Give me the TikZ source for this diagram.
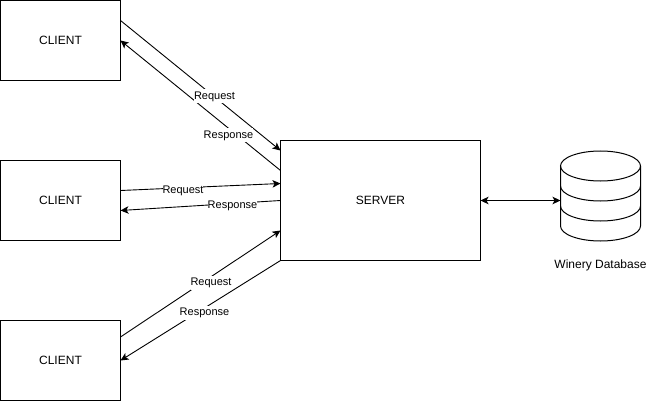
\documentclass[tikz,border=0pt]{standalone}
\usepackage{fontspec}
\setmainfont{Liberation Sans}
\usetikzlibrary{arrows.meta}
\tikzset{
	box/.style={draw,line width=1pt,inner sep=0pt,outer sep=0pt,font=\fontsize{12}{14}\selectfont},
	link/.style={line width=.9pt,-{Stealth[length=8pt,width=7.5pt,inset=2pt]}},
	both/.style={line width=.9pt,{Stealth[length=8pt,width=7.5pt,inset=2pt]}-{Stealth[length=8pt,width=7.5pt,inset=2pt]}},
	lbl/.style={fill=white,inner xsep=0pt,inner ysep=1pt,minimum height=14pt,font=\fontsize{11}{13}\selectfont}
}

\begin{document}
\begin{tikzpicture}
				[x=1pt,y=-1pt]
				\useasboundingbox (0,0) rectangle (661,401);
				\node[box,minimum width=120pt,minimum height=80pt] (client1) at (60.5,40.5)  {CLIENT};
				\node[box,minimum width=120pt,minimum height=80pt] (client2) at (60.5,200.5)  {CLIENT};
				\node[box,minimum width=120pt,minimum height=80pt] (client3) at (60.5,360.5)  {CLIENT};
				\node[box,minimum width=200pt,minimum height=120pt] (server) at (380.5,200.5)  {SERVER};
				\node[inner sep=0pt,outer sep=0pt,minimum width=80pt,minimum height=90pt] (db) at (600.5,196)  {};
				
				% client to server and back
				\draw[link] ([yshift=20pt]client1.east) -- ([yshift=50pt]server.west);
				\draw[link] ([yshift=30pt]server.west) -- (client1.east);
				\draw[link] ([yshift=10pt]client2.east) -- ([yshift=17pt]server.west);
				\draw[link] (server.west) -- ([yshift=-10pt]client2.east);
				\draw[link] ([yshift=23.5pt]client3.east) -- ([yshift=-30pt]server.west);
				\draw[link] (server.south west) -- (client3.east);
				\draw[both] (server.east) -- (server.east -| db.west);
				
				% database
				\draw[line width=1pt] (db.west |- 0,166) -- (db.west |- 0,226) arc[start angle=180,end angle=360,x radius=40pt,y radius=15pt] -- (db.east |- 0,166);
				\draw[line width=1pt] (600.5,166) circle[x radius=40pt,y radius=15pt];
				\foreach \y in {186,206}
				\draw[line width=1pt] (db.west |- 0,\y) arc[start angle=180,end angle=360,x radius=40pt,y radius=15pt];
				
				\node[lbl] (req1) at (214.5,96.5)  {Request};
				\node[lbl] (res1) at (228.5,135.5)  {Response};
				\node[lbl] (req2) at (183,190.5)  {Request};
				\node[lbl] (res2) at (232.5,205.5)  {Response};
				\node[lbl] (req3) at (211,282.5)  {Request};
				\node[lbl] (res3) at (204.5,312.5)  {Response};
				\node[font=\fontsize{12}{14}\selectfont] (dbname) at (600.5,265.5)  {Winery Database};
				\end{tikzpicture}
\end{document}
